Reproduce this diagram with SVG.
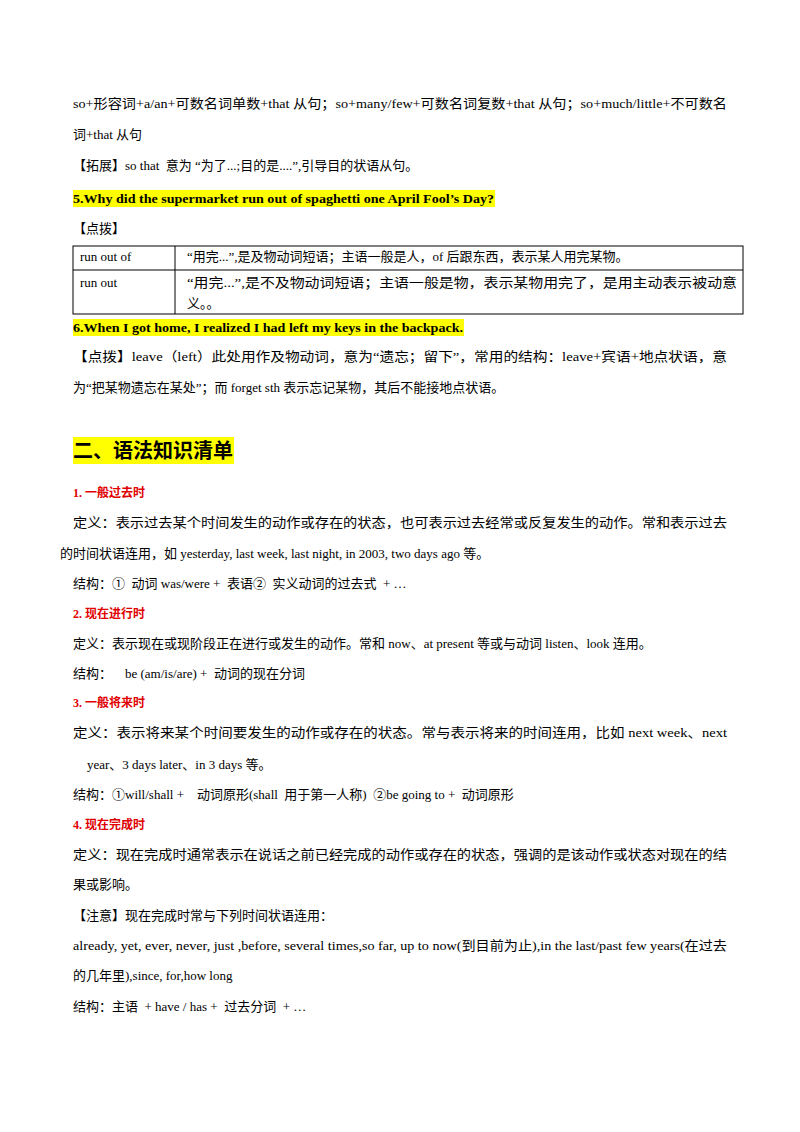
<svg xmlns="http://www.w3.org/2000/svg" width="800" height="1132" viewBox="0 0 800 1132">
<style>
text{font-family:"Liberation Serif","Noto Sans CJK SC",serif;font-size:13px;fill:#000;white-space:pre}
.b{font-weight:bold}
.r{fill:#e00000;font-weight:bold;font-size:12px}
.hl{fill:#ffff00}
.ln{stroke:#000;stroke-width:1;fill:none}
</style>
<rect width="800" height="1132" fill="#fff"/>
<text x="73" y="108" textLength="654" lengthAdjust="spacingAndGlyphs">so+形容词+a/an+可数名词单数+that 从句；so+many/few+可数名词复数+that 从句；so+much/little+不可数名</text>
<text x="73" y="139">词+that 从句</text>
<text x="73" y="170">【拓展】so that  意为 “为了...;目的是....”,引导目的状语从句。</text>
<rect class="hl" x="73" y="190" width="422" height="17"/>
<text class="b" x="73" y="203" textLength="421" lengthAdjust="spacingAndGlyphs">5.Why did the supermarket run out of spaghetti one April Fool’s Day?</text>
<text x="73" y="233">【点拨】</text>
<g>
<rect class="ln" x="73" y="246" width="670" height="68"/>
<line class="ln" x1="73" y1="270" x2="743" y2="270"/>
<line class="ln" x1="175" y1="246" x2="175" y2="314"/>
</g>
<text x="80" y="261">run out of</text>
<text x="187" y="261">“用完...”,是及物动词短语；主语一般是人，of 后跟东西，表示某人用完某物。</text>
<text x="80" y="287">run out</text>
<text x="187" y="287" textLength="550" lengthAdjust="spacingAndGlyphs">“用完...”,是不及物动词短语；主语一般是物，表示某物用完了，是用主动表示被动意</text>
<text x="187" y="308">义。。</text>
<rect class="hl" x="73" y="319" width="391" height="17"/>
<text class="b" x="73" y="332" textLength="390" lengthAdjust="spacingAndGlyphs">6.When I got home, I realized I had left my keys in the backpack.</text>
<text x="73" y="361" textLength="654" lengthAdjust="spacingAndGlyphs">【点拨】leave（left）此处用作及物动词，意为“遗忘；留下”，常用的结构：leave+宾语+地点状语，意</text>
<text x="73" y="392">为“把某物遗忘在某处”；而 forget sth 表示忘记某物，其后不能接地点状语。</text>
<rect class="hl" x="73" y="437" width="161" height="27"/>
<text class="b" x="73" y="458" style="font-size:20px">二、语法知识清单</text>
<text class="r" x="73" y="497">1. 一般过去时</text>
<text x="73" y="527" textLength="654" lengthAdjust="spacingAndGlyphs">定义：表示过去某个时间发生的动作或存在的状态，也可表示过去经常或反复发生的动作。常和表示过去</text>
<text x="60" y="558">的时间状语连用，如 yesterday, last week, last night, in 2003, two days ago 等。</text>
<text x="73" y="588">结构：①  动词 was/were +  表语②  实义动词的过去式  + …</text>
<text class="r" x="73" y="618">2. 现在进行时</text>
<text x="73" y="648">定义：表示现在或现阶段正在进行或发生的动作。常和 now、at present 等或与动词 listen、look 连用。</text>
<text x="73" y="678">结构：    be (am/is/are) +  动词的现在分词</text>
<text class="r" x="73" y="707">3. 一般将来时</text>
<text x="73" y="737" textLength="654" lengthAdjust="spacingAndGlyphs">定义：表示将来某个时间要发生的动作或存在的状态。常与表示将来的时间连用，比如 next week、next</text>
<text x="87" y="769">year、3 days later、in 3 days 等。</text>
<text x="73" y="799">结构：①will/shall +    动词原形(shall  用于第一人称)  ②be going to +  动词原形</text>
<text class="r" x="73" y="829">4. 现在完成时</text>
<text x="73" y="859" textLength="654" lengthAdjust="spacingAndGlyphs">定义：现在完成时通常表示在说话之前已经完成的动作或存在的状态，强调的是该动作或状态对现在的结</text>
<text x="73" y="889">果或影响。</text>
<text x="73" y="920">【注意】现在完成时常与下列时间状语连用：</text>
<text x="73" y="950" textLength="654" lengthAdjust="spacingAndGlyphs">already, yet, ever, never, just ,before, several times,so far, up to now(到目前为止),in the last/past few years(在过去</text>
<text x="73" y="980">的几年里),since, for,how long</text>
<text x="73" y="1011">结构：主语  + have / has +  过去分词  + …</text>
</svg>
